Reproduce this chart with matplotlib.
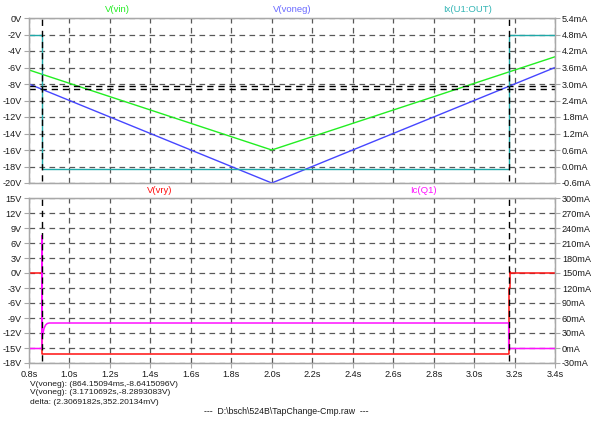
import numpy as np
import matplotlib
matplotlib.use("Agg")
import matplotlib.pyplot as plt

plt.rcParams['font.family'] = ['Liberation Sans', 'DejaVu Sans']

# --- data ---
t_vin   = [0.8, 2.0, 3.4]
v_vin   = [-6.3, -16.0, -4.7]

t_voneg = [0.8, 2.0, 3.4]
v_voneg = [-8.0, -20.0, -6.0]

t_ix    = [0.8, 0.864, 0.864, 3.171, 3.171, 3.4]
i_ix    = [4.8, 4.8, -0.08, -0.08, 4.8, 4.8]          # mA

t_vry   = [0.8, 0.864, 0.864, 3.171, 3.171, 3.176, 3.176, 3.18, 3.18, 3.4]
v_vry   = [0.0, 0.0, -16.2, -16.2, -3.0, -3.0, 0.3, 0.3, 0.0, 0.0]

t_icq   = [0.8, 0.864, 0.864, 0.8645, 0.868, 0.875, 0.882, 0.89, 0.9, 3.171, 3.171, 3.4]
i_icq   = [-1, -1, 225, 22, 28, 40, 46, 49, 50, 50, -1, -1]   # mA

cursor_t = [0.86415094, 3.1710692]
cursor_v = [-8.6415096, -8.2893083]

x_ticks  = [0.8, 1.0, 1.2, 1.4, 1.6, 1.8, 2.0, 2.2, 2.4, 2.6, 2.8, 3.0, 3.2, 3.4]
x_labels = ["0.8s", "1.0s", "1.2s", "1.4s", "1.6s", "1.8s", "2.0s",
            "2.2s", "2.4s", "2.6s", "2.8s", "3.0s", "3.2s", "3.4s"]

top_l_ticks  = [-20, -18, -16, -14, -12, -10, -8, -6, -4, -2, 0]
top_l_labels = ["-20V", "-18V", "-16V", "-14V", "-12V", "-10V", "-8V", "-6V", "-4V", "-2V", "0V"]
top_r_ticks  = [-0.6, 0.0, 0.6, 1.2, 1.8, 2.4, 3.0, 3.6, 4.2, 4.8, 5.4]
top_r_labels = ["-0.6mA", "0.0mA", "0.6mA", "1.2mA", "1.8mA", "2.4mA",
                "3.0mA", "3.6mA", "4.2mA", "4.8mA", "5.4mA"]

bot_l_ticks  = [-18, -15, -12, -9, -6, -3, 0, 3, 6, 9, 12, 15]
bot_l_labels = ["-18V", "-15V", "-12V", "-9V", "-6V", "-3V", "0V", "3V", "6V", "9V", "12V", "15V"]
bot_r_ticks  = [-30, 0, 30, 60, 90, 120, 150, 180, 210, 240, 270, 300]
bot_r_labels = ["-30mA", "0mA", "30mA", "60mA", "90mA", "120mA",
                "150mA", "180mA", "210mA", "240mA", "270mA", "300mA"]

c_green, c_blue, c_teal = '#22ee22', '#4646ff', '#1fa8a8'
c_red, c_mag = '#ff1010', '#ff10ff'
grid_c, frame_c, txt_c = '#585858', '#a8a8a8', '#1a1a1a'
dash = (0, (4.5, 3.5))

W, H = 600, 424
fig = plt.figure(figsize=(6, 4.24), dpi=100)

def pane(top, bottom):
    return fig.add_axes([29 / W, 1 - bottom / H, 526 / W, (bottom - top) / H])

def style(ax, yt, yl, rt, rl, ylim, rlim, xlabels):
    ax.set_xlim(0.8, 3.4)
    ax.set_ylim(*ylim)
    ax.set_xticks(x_ticks)
    ax.set_xticklabels(x_labels if xlabels else [])
    ax.set_yticks(yt)
    ax.set_yticklabels(yl)
    ax.grid(True, color=grid_c, linestyle=dash, lw=0.9)
    for s in ax.spines.values():
        s.set_color(frame_c)
        s.set_linewidth(1.0)
    ax.tick_params(labelsize=6.6, colors=txt_c, length=3.5 if xlabels else 0,
                   width=0.8, pad=1.5)
    ax.tick_params(axis='y', length=3.5, color=frame_c)
    ax.tick_params(axis='x', color=frame_c)
    axr = ax.twinx()
    axr.set_ylim(*rlim)
    axr.set_yticks(rt)
    axr.set_yticklabels(rl)
    axr.tick_params(labelsize=6.6, colors=txt_c, length=3.5, width=0.8, pad=1.5)
    axr.tick_params(axis='y', color=frame_c)
    for s in axr.spines.values():
        s.set_color(frame_c)
    return axr

# top pane
ax1 = pane(18, 183)
ax1r = style(ax1, top_l_ticks, top_l_labels, top_r_ticks, top_r_labels,
             (-20, 0), (-0.6, 5.4), False)
ax1.plot(t_vin, v_vin, color=c_green, lw=1.0)
ax1.plot(t_voneg, v_voneg, color=c_blue, lw=1.0)
ax1r.plot(t_ix, i_ix, color=c_teal, lw=1.0)
for tc in cursor_t:
    ax1r.axvline(tc, color='black', lw=1.0, linestyle=dash, ymin=0.015)
for vc in cursor_v:
    ax1.axhline(vc, color='black', lw=1.0, linestyle=dash)

# bottom pane
ax2 = pane(198, 363)
ax2r = style(ax2, bot_l_ticks, bot_l_labels, bot_r_ticks, bot_r_labels,
             (-18, 15), (-30, 300), True)
ax2.plot(t_vry, v_vry, color=c_red, lw=1.1)
ax2r.plot(t_icq, i_icq, color=c_mag, lw=1.1)
for tc in cursor_t:
    ax2r.axvline(tc, color='black', lw=1.0, linestyle=dash, ymin=0.01)

# trace titles
fs = 6.8
fig.text(117 / W, 1 - 10 / H, "V(vin)", color=c_green, fontsize=fs, ha='center', va='center')
fig.text(292 / W, 1 - 10 / H, "V(voneg)", color='#6a6aff', fontsize=fs, ha='center', va='center')
fig.text(468 / W, 1 - 10 / H, "Ix(U1:OUT)", color='#33b5b5', fontsize=fs, ha='center', va='center')
fig.text(160 / W, 1 - 190 / H, "V(vry)", color=c_red, fontsize=fs, ha='center', va='center')
fig.text(423 / W, 1 - 190 / H, "Ic(Q1)", color=c_mag, fontsize=fs, ha='center', va='center')

# cursor readout
info = ["V(voneg): (864.15094ms,-8.6415096V)",
        "V(voneg): (3.1710692s,-8.2893083V)",
        "delta: (2.3069182s,352.20134mV)"]
for k, line in enumerate(info):
    fig.text(30 / W, 1 - (384 + 9 * k) / H, line, color=txt_c, fontsize=6.1, va='center')
fig.text(286 / W, 1 - 412 / H, "---  D:\\bsch\\524B\\TapChange-Cmp.raw  ---",
         color=txt_c, fontsize=6.3, ha='center', va='center')

fig.savefig("out.png", dpi=100)
